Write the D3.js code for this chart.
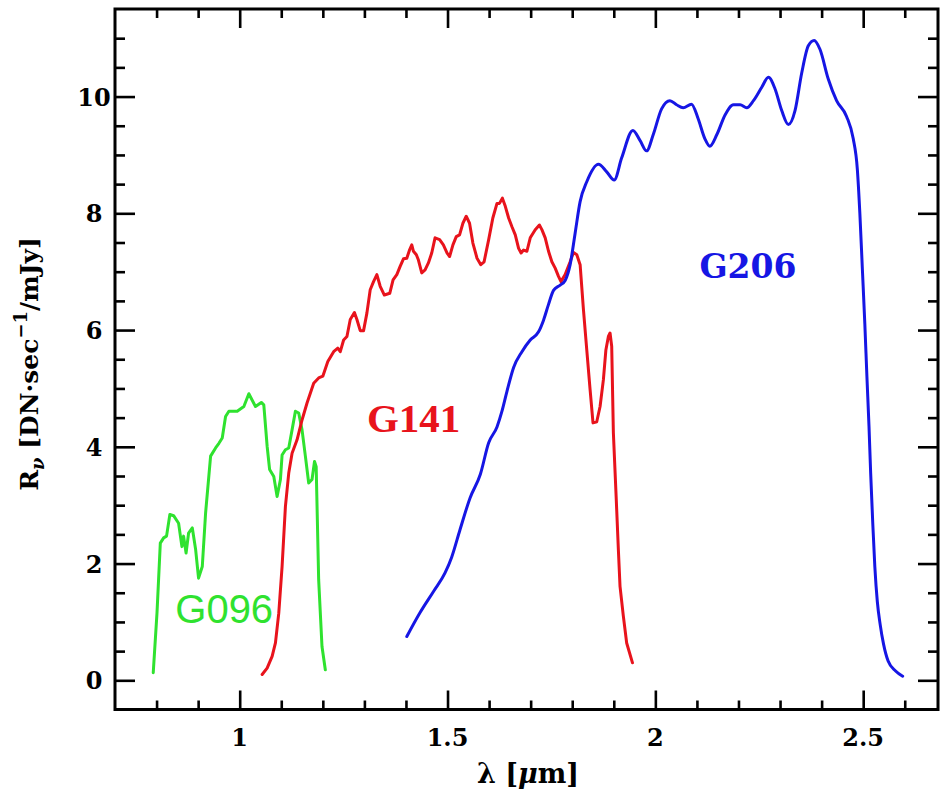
<!DOCTYPE html>
<html>
<head>
<meta charset="utf-8">
<script src="https://cdn.jsdelivr.net/npm/d3@7"></script>
<style>
  html, body { margin: 0; padding: 0; background: #fff; }
  svg { display: block; }
</style>
</head>
<body>
<svg id="chart" width="940" height="793"></svg>
<script>
// ---- Data (wavelength in µm, throughput R_nu) ----
const g096Wave = [0.792,0.801,0.809,0.817,0.824,0.832,0.841,0.853,0.861,0.865,0.871,0.877,0.886,0.894,0.901,0.910,0.918,0.930,0.942,0.950,0.958,0.966,0.974,0.994,1.010,1.022,1.038,1.052,1.058,1.066,1.072,1.082,1.090,1.098,1.102,1.110,1.118,1.126,1.134,1.142,1.150,1.158,1.166,1.174,1.180,1.184,1.190,1.198,1.206];
const g096Resp = [0.13,1.15,2.35,2.44,2.47,2.84,2.82,2.69,2.29,2.47,2.18,2.52,2.61,2.24,1.75,1.95,2.87,3.84,3.98,4.06,4.15,4.52,4.61,4.61,4.69,4.91,4.69,4.76,4.72,4.01,3.61,3.49,3.15,3.44,3.86,3.95,3.98,4.29,4.61,4.58,4.29,3.84,3.38,3.44,3.75,3.66,1.72,0.58,0.18];

const g141Wave = [1.054,1.066,1.078,1.086,1.094,1.102,1.110,1.118,1.126,1.138,1.150,1.162,1.178,1.190,1.200,1.212,1.226,1.236,1.242,1.250,1.258,1.266,1.276,1.282,1.290,1.298,1.306,1.314,1.322,1.330,1.338,1.348,1.361,1.369,1.378,1.386,1.394,1.402,1.409,1.414,1.418,1.425,1.430,1.438,1.446,1.454,1.462,1.470,1.481,1.490,1.499,1.505,1.513,1.521,1.529,1.537,1.545,1.553,1.561,1.571,1.580,1.588,1.599,1.609,1.619,1.625,1.632,1.639,1.647,1.655,1.663,1.671,1.677,1.683,1.691,1.699,1.711,1.721,1.727,1.735,1.743,1.751,1.759,1.767,1.773,1.783,1.795,1.803,1.811,1.819,1.827,1.835,1.843,1.850,1.859,1.867,1.875,1.881,1.887,1.891,1.895,1.899,1.906,1.911,1.915,1.923,1.931,1.945];
const g141Resp = [0.10,0.21,0.41,0.64,1.15,1.95,2.98,3.55,3.89,4.12,4.46,4.75,5.09,5.18,5.21,5.46,5.63,5.69,5.63,5.83,5.89,6.18,6.30,6.18,5.99,5.99,6.29,6.69,6.83,6.95,6.75,6.60,6.63,6.86,6.95,7.09,7.22,7.23,7.38,7.46,7.35,7.29,7.20,6.98,7.03,7.15,7.32,7.58,7.55,7.46,7.32,7.26,7.46,7.60,7.63,7.83,7.95,7.83,7.49,7.23,7.12,7.17,7.55,7.92,8.17,8.17,8.26,8.12,7.92,7.77,7.63,7.40,7.32,7.37,7.35,7.58,7.72,7.80,7.72,7.58,7.35,7.17,7.06,6.92,6.83,6.95,7.17,7.33,7.29,7.12,6.35,5.66,4.98,4.41,4.43,4.69,5.15,5.66,5.89,5.95,5.72,4.24,3.09,2.24,1.61,1.10,0.64,0.30];

const g206Wave = [1.402,1.434,1.467,1.494,1.510,1.530,1.554,1.579,1.599,1.619,1.631,1.643,1.659,1.679,1.699,1.719,1.731,1.743,1.755,1.771,1.783,1.795,1.807,1.819,1.835,1.863,1.883,1.901,1.919,1.946,1.963,1.979,1.995,2.015,2.035,2.051,2.067,2.087,2.103,2.119,2.131,2.148,2.168,2.188,2.204,2.220,2.236,2.256,2.272,2.288,2.304,2.320,2.336,2.352,2.368,2.382,2.396,2.416,2.436,2.460,2.476,2.486,2.492,2.498,2.504,2.509,2.514,2.518,2.523,2.528,2.534,2.541,2.549,2.560,2.578,2.595];
const g206Resp = [0.75,1.16,1.53,1.84,2.11,2.58,3.12,3.53,4.07,4.34,4.61,4.95,5.36,5.63,5.83,5.97,6.17,6.44,6.68,6.77,6.85,7.12,7.66,8.20,8.54,8.84,8.71,8.57,8.95,9.42,9.25,9.07,9.35,9.79,9.93,9.86,9.81,9.87,9.62,9.28,9.15,9.35,9.69,9.86,9.86,9.81,9.93,10.16,10.33,10.13,9.76,9.52,9.76,10.40,10.87,10.96,10.81,10.30,9.93,9.66,9.28,8.75,8.00,7.05,6.10,5.20,4.35,3.55,2.70,1.95,1.35,0.95,0.62,0.33,0.16,0.07];

const seriesNames = ["G096", "G141", "G206"];
const xMajorTicks = [1, 1.5, 2, 2.5];
const xTickLabels = ["1", "1.5", "2", "2.5"];
const yMajorTicks = [0, 2, 4, 6, 8, 10];
const yTickLabels = ["0", "2", "4", "6", "8", "10"];

// ---- Layout ----
const svg = d3.select("#chart");
const L = 115, R = 938, T = 9, B = 709.5;
const x = d3.scaleLinear().domain([0.7, 2.68]).range([L, R]);
const y = d3.scaleLinear().domain([-0.5, 11.5]).range([B, T]);

const colors = { G096: "#2fe22f", G141: "#e8131c", G206: "#1616e4" };

const xMinor = d3.range(8, 27).map(d => d / 10).filter(d => !xMajorTicks.some(m => Math.abs(m - d) < 1e-9));
const yMinor = d3.range(0, 23).map(d => d / 2).filter(d => !yMajorTicks.includes(d));

const tickStyle = g => {
  g.select(".domain").remove();
  g.selectAll(".tick line").attr("stroke", "#000").attr("stroke-width", 2.6);
  g.selectAll(".tick text").remove();
};

// bottom axis
svg.append("g").attr("transform", `translate(0,${B})`)
  .call(d3.axisBottom(x).tickValues(xMinor).tickSize(-9).tickFormat("")).call(tickStyle);
svg.append("g").attr("transform", `translate(0,${B})`)
  .call(d3.axisBottom(x).tickValues(xMajorTicks).tickSize(-19).tickFormat("")).call(tickStyle);
// top axis
svg.append("g").attr("transform", `translate(0,${T})`)
  .call(d3.axisTop(x).tickValues(xMinor).tickSize(-9).tickFormat("")).call(tickStyle);
svg.append("g").attr("transform", `translate(0,${T})`)
  .call(d3.axisTop(x).tickValues(xMajorTicks).tickSize(-19).tickFormat("")).call(tickStyle);
// left axis
svg.append("g").attr("transform", `translate(${L},0)`)
  .call(d3.axisLeft(y).tickValues(yMinor).tickSize(-10).tickFormat("")).call(tickStyle);
svg.append("g").attr("transform", `translate(${L},0)`)
  .call(d3.axisLeft(y).tickValues(yMajorTicks).tickSize(-20).tickFormat("")).call(tickStyle);
// right axis
svg.append("g").attr("transform", `translate(${R},0)`)
  .call(d3.axisRight(y).tickValues(yMinor).tickSize(-10).tickFormat("")).call(tickStyle);
svg.append("g").attr("transform", `translate(${R},0)`)
  .call(d3.axisRight(y).tickValues(yMajorTicks).tickSize(-20).tickFormat("")).call(tickStyle);

// frame
svg.append("rect").attr("x", L).attr("y", T).attr("width", R - L).attr("height", B - T)
  .attr("fill", "none").attr("stroke", "#000").attr("stroke-width", 3);

// tick labels
const tickFont = "'DejaVu Serif', serif";
svg.append("g").selectAll("text").data(xMajorTicks).join("text")
  .attr("x", d => x(d)).attr("y", 746)
  .attr("text-anchor", "middle")
  .attr("font-family", tickFont).attr("font-weight", "bold").attr("font-size", 24)
  .text((d, i) => xTickLabels[i]);
svg.append("g").selectAll("text").data(yMajorTicks).join("text")
  .attr("x", 94).attr("y", d => y(d) + 9)
  .attr("text-anchor", "middle")
  .attr("font-family", tickFont).attr("font-weight", "bold").attr("font-size", 24)
  .text((d, i) => yTickLabels[i]);

// axis titles
const xt = svg.append("text").attr("x", 528).attr("y", 783).attr("text-anchor", "middle")
  .attr("font-family", tickFont).attr("font-weight", "bold").attr("font-size", 27);
xt.append("tspan").text("λ [");
xt.append("tspan").attr("font-style", "italic").text("μ");
xt.append("tspan").text("m]");

const yt = svg.append("text").attr("transform", "translate(38,364) rotate(-90)")
  .attr("text-anchor", "middle")
  .attr("font-family", tickFont).attr("font-weight", "bold").attr("font-size", 25);
yt.append("tspan").text("R");
yt.append("tspan").attr("font-size", 18).attr("font-style", "italic").attr("dy", 6).text("ν");
yt.append("tspan").attr("dy", -6).text(" [DN·sec");
yt.append("tspan").attr("font-size", 18).attr("dy", -11).text("−1");
yt.append("tspan").attr("dy", 11).text("/mJy]");

// curves
const line = d3.line().x(d => x(d[0])).y(d => y(d[1]));
const smooth = d3.line().x(d => x(d[0])).y(d => y(d[1])).curve(d3.curveMonotoneX);

const curves = [
  { name: "G096", pts: d3.zip(g096Wave, g096Resp), gen: line },
  { name: "G141", pts: d3.zip(g141Wave, g141Resp), gen: line },
  { name: "G206", pts: d3.zip(g206Wave, g206Resp), gen: smooth },
];
svg.append("g").selectAll("path").data(curves).join("path")
  .attr("d", d => d.gen(d.pts))
  .attr("fill", "none")
  .attr("stroke", d => colors[d.name])
  .attr("stroke-width", 3)
  .attr("stroke-linejoin", "round")
  .attr("stroke-linecap", "round");

// series labels
svg.append("text").attr("x", x(0.845)).attr("y", y(0.99))
  .attr("font-family", "'Liberation Sans', Arial, sans-serif").attr("font-size", 40)
  .attr("fill", colors.G096).text(seriesNames[0]);
svg.append("text").attr("x", x(1.306)).attr("y", y(4.26))
  .attr("font-family", "'Liberation Serif', serif").attr("font-weight", "bold").attr("font-size", 41)
  .attr("fill", colors.G141).text(seriesNames[1]);
svg.append("text").attr("x", x(2.106)).attr("y", y(6.89))
  .attr("font-family", "'DejaVu Serif', serif").attr("font-weight", "bold").attr("font-size", 33)
  .attr("fill", colors.G206).text(seriesNames[2]);
</script>
</body>
</html>
